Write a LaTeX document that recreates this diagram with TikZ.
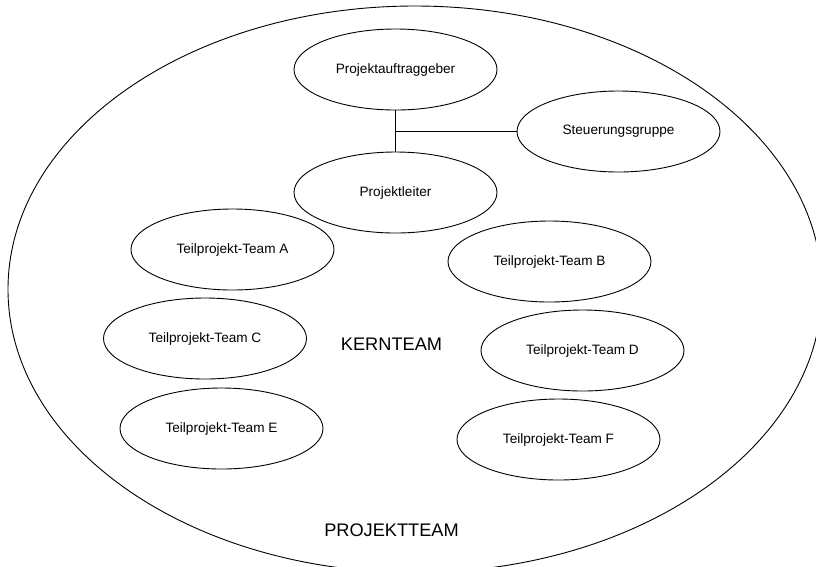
\documentclass[tikz,border=0pt]{standalone}
\usepackage{fontspec}
\setmainfont{Liberation Sans}
\usetikzlibrary{shapes.geometric}
\begin{document}
\begin{tikzpicture}[x=1pt,y=-1pt,
  role/.style={draw=black, line width=0.9pt, ellipse, minimum width=203pt,
    minimum height=81pt, inner sep=0pt, font=\fontsize{13.6}{16}\selectfont},
  label/.style={inner sep=0pt, font=\fontsize{18.2}{22}\selectfont},
  link/.style={draw=black, line width=0.9pt}]
  \useasboundingbox (0,0) rectangle (816,566);
  \begin{scope}
    \clip (0,0) rectangle (816,566);
    % outer boundary of the whole project team
    \draw[line width=0.9pt] (415,289.3) ellipse [x radius=407, y radius=283.3];
  \end{scope}

  \node[role] (pag) at (395.5,69.5) {Projektauftraggeber};
  \node[role] (stg) at (618.5,131.5) {Steuerungsgruppe};
  \node[role] (pl)  at (395.5,192.5) {Projektleiter};

  \node[role] (ta) at (232.5,249.5) {Teilprojekt-Team A};
  \node[role] (tb) at (549.5,261.5) {Teilprojekt-Team B};
  \node[role] (tc) at (205,338.5)   {Teilprojekt-Team C};
  \node[role] (td) at (582.5,350.5) {Teilprojekt-Team D};
  \node[role] (te) at (221.5,428.5) {Teilprojekt-Team E};
  \node[role] (tf) at (558.5,439.5) {Teilprojekt-Team F};

  \node[label] (kern) at (391.5,344) {KERNTEAM};
  \node[label] (proj) at (391.5,530) {PROJEKTTEAM};

  % reporting line with the steering group branch
  \coordinate (junction) at (pag.south |- stg.west);
  \draw[link] (pag.south) -- (pl.north);
  \draw[link] (junction) -- (stg.west);
\end{tikzpicture}
\end{document}
